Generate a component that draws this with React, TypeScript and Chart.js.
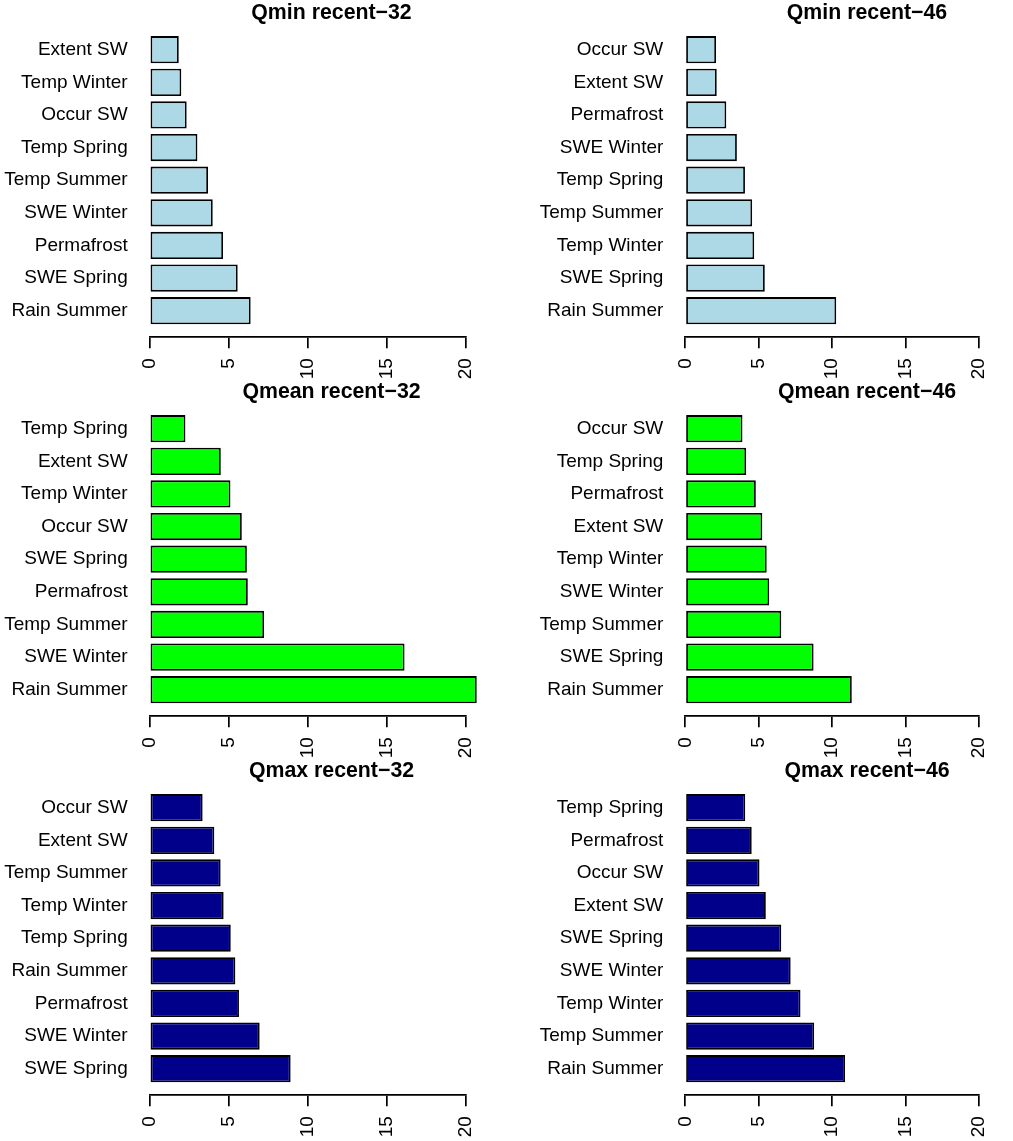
import { useEffect, useRef } from "react"
import { Chart, BarController, BarElement, CategoryScale, LinearScale } from "chart.js"

Chart.register(BarController, BarElement, CategoryScale, LinearScale)

Chart.defaults.font.family = "'Liberation Sans', Arial, Helvetica, sans-serif"
Chart.defaults.color = "#000"

// categories listed top to bottom, values in the same order
const qminRecent32Labels = ["Extent SW", "Temp Winter", "Occur SW", "Temp Spring", "Temp Summer", "SWE Winter", "Permafrost", "SWE Spring", "Rain Summer"]
const qminRecent32Values = [1.84, 2.0, 2.34, 3.02, 3.69, 3.99, 4.64, 5.57, 6.39]

const qminRecent46Labels = ["Occur SW", "Extent SW", "Permafrost", "SWE Winter", "Temp Spring", "Temp Summer", "Temp Winter", "SWE Spring", "Rain Summer"]
const qminRecent46Values = [2.09, 2.14, 2.79, 3.51, 4.06, 4.55, 4.69, 5.41, 10.27]

const qmeanRecent32Labels = ["Temp Spring", "Extent SW", "Temp Winter", "Occur SW", "SWE Spring", "Permafrost", "Temp Summer", "SWE Winter", "Rain Summer"]
const qmeanRecent32Values = [2.26, 4.5, 5.11, 5.83, 6.15, 6.21, 7.24, 16.13, 20.7]

const qmeanRecent46Labels = ["Occur SW", "Temp Spring", "Permafrost", "Extent SW", "Temp Winter", "SWE Winter", "Temp Summer", "SWE Spring", "Rain Summer"]
const qmeanRecent46Values = [3.89, 4.14, 4.8, 5.24, 5.54, 5.71, 6.53, 8.73, 11.33]

const qmaxRecent32Labels = ["Occur SW", "Extent SW", "Temp Summer", "Temp Winter", "Temp Spring", "Rain Summer", "Permafrost", "SWE Winter", "SWE Spring"]
const qmaxRecent32Values = [3.35, 4.09, 4.49, 4.68, 5.13, 5.42, 5.65, 6.96, 8.92]

const qmaxRecent46Labels = ["Temp Spring", "Permafrost", "Occur SW", "Extent SW", "SWE Spring", "SWE Winter", "Temp Winter", "Temp Summer", "Rain Summer"]
const qmaxRecent46Values = [4.08, 4.52, 5.05, 5.48, 6.53, 7.17, 7.84, 8.77, 10.87]

const xTicks = [0, 5, 10, 15, 20]

const ROW_H = 379
const COLUMNS = [
  { left: 0, width: 506, axisWidth: 149.7, padRight: 40.3, titleX: 331.5 },
  { left: 506, width: 507, axisWidth: 179.3, padRight: 12.3, titleX: 361 },
]

// draws the bold panel heading at a fixed spot (R centres it on its own plot region)
const panelTitle = {
  id: "panelTitle",
  afterDraw(chart: any, _args: any, opts: any) {
    const { ctx } = chart
    ctx.save()
    ctx.font = "bold 21.3px 'Liberation Sans', Arial, sans-serif"
    ctx.fillStyle = "#000"
    ctx.textAlign = "center"
    ctx.textBaseline = "alphabetic"
    ctx.fillText(opts.text, opts.x, opts.y)
    ctx.restore()
  },
}

interface PanelProps {
  title: string
  labels: string[]
  values: number[]
  color: string
  row: number
  col: number
}

function Panel({ title, labels, values, color, row, col }: PanelProps) {
  const canvasRef = useRef<HTMLCanvasElement>(null)
  const chartRef = useRef<Chart | null>(null)
  const c = COLUMNS[col]

  useEffect(() => {
    if (!canvasRef.current) return
    if (chartRef.current) chartRef.current.destroy()

    const ctx = canvasRef.current.getContext("2d")
    if (!ctx) return

    chartRef.current = new Chart(ctx, {
      type: "bar",
      data: {
        labels,
        datasets: [
          {
            data: values,
            backgroundColor: color,
            borderColor: "#000",
            borderWidth: 1.8,
            borderSkipped: false,
            barPercentage: 1 / 1.2,
            categoryPercentage: 1,
            clip: false,
          } as any,
        ],
      },
      options: {
        indexAxis: "y",
        responsive: false,
        animation: false,
        events: [],
        layout: {
          padding: { top: 31, bottom: 52, left: 0, right: c.padRight },
        },
        plugins: {
          legend: { display: false },
          tooltip: { enabled: false },
          title: { display: false },
          panelTitle: { text: title, x: c.titleX, y: 19.3 },
        } as any,
        scales: {
          x: {
            type: "linear",
            min: 0,
            max: 20,
            // axis line sits a little below the last bar, like R's 4% extension
            position: { y: labels.length - 0.5 + 0.294 } as any,
            afterBuildTicks: (scale: any) => {
              scale.ticks = xTicks.map(v => ({ value: v }))
            },
            ticks: {
              minRotation: 90,
              maxRotation: 90,
              padding: 11,
              color: "#000",
              font: { size: 19 },
            },
            grid: {
              display: true,
              drawOnChartArea: false,
              drawTicks: true,
              tickLength: 10.6,
              color: "#000",
              lineWidth: 1.7,
            },
            border: { display: true, color: "#000", width: 1.7 },
          },
          y: {
            type: "category",
            offset: true,
            afterFit: (scale: any) => {
              scale.width = c.axisWidth
            },
            ticks: {
              padding: 22,
              color: "#000",
              autoSkip: false,
              font: { size: 19 },
            },
            grid: { display: false, drawTicks: false },
            border: { display: false },
          },
        },
      },
      plugins: [panelTitle],
    })

    return () => {
      if (chartRef.current) {
        chartRef.current.destroy()
        chartRef.current = null
      }
    }
  }, [title, labels, values, color, col])

  return (
    <canvas
      ref={canvasRef}
      width={c.width}
      height={ROW_H}
      style={{ position: "absolute", left: c.left, top: row * ROW_H, width: c.width, height: ROW_H }}
    />
  )
}

export default function App() {
  return (
    <div
      style={{
        position: "absolute",
        left: 0,
        top: 0,
        width: 1013,
        height: 1141,
        overflow: "hidden",
        background: "#fff",
      }}
    >
      <Panel title="Qmin recent−32" labels={qminRecent32Labels} values={qminRecent32Values} color="#ADD8E6" row={0} col={0} />
      <Panel title="Qmin recent−46" labels={qminRecent46Labels} values={qminRecent46Values} color="#ADD8E6" row={0} col={1} />
      <Panel title="Qmean recent−32" labels={qmeanRecent32Labels} values={qmeanRecent32Values} color="#00FF00" row={1} col={0} />
      <Panel title="Qmean recent−46" labels={qmeanRecent46Labels} values={qmeanRecent46Values} color="#00FF00" row={1} col={1} />
      <Panel title="Qmax recent−32" labels={qmaxRecent32Labels} values={qmaxRecent32Values} color="#00008B" row={2} col={0} />
      <Panel title="Qmax recent−46" labels={qmaxRecent46Labels} values={qmaxRecent46Values} color="#00008B" row={2} col={1} />
    </div>
  )
}
